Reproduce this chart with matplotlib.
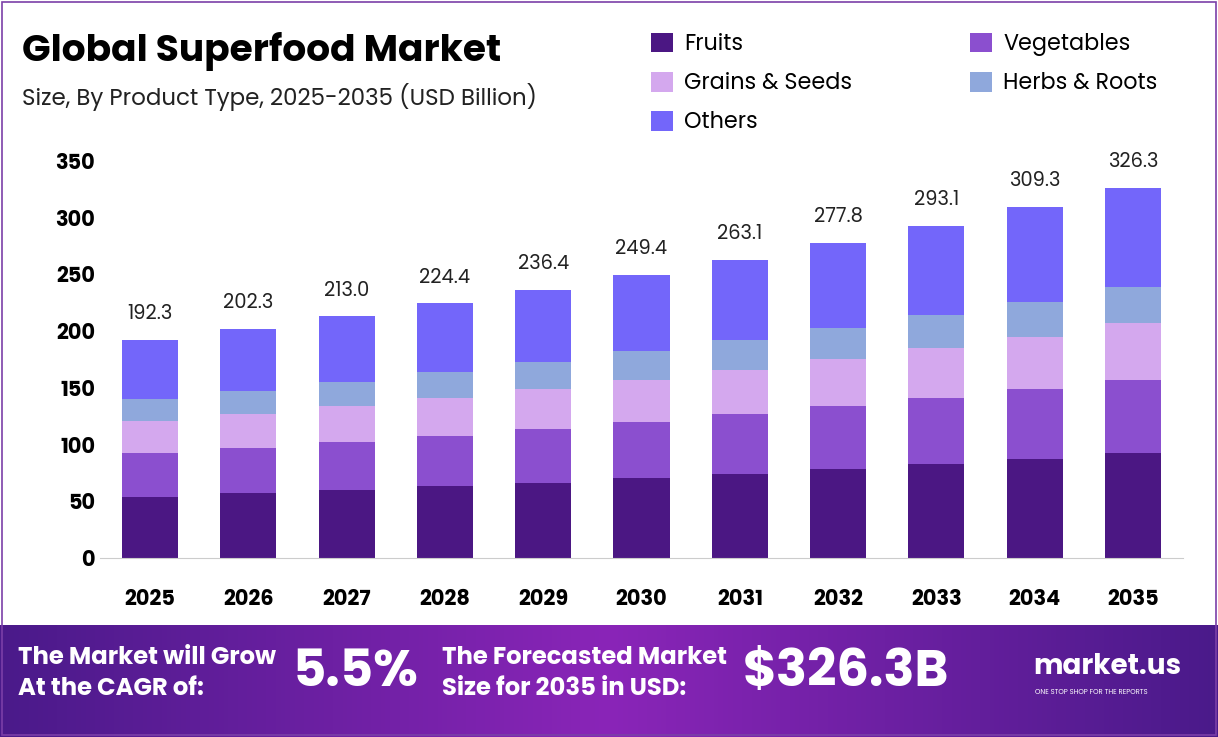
import numpy as np
import matplotlib.pyplot as plt
from matplotlib.patches import Rectangle
from matplotlib.colors import LinearSegmentedColormap

plt.rcParams['font.family'] = ['Poppins', 'Lato', 'DejaVu Sans']

years = ['2025', '2026', '2027', '2028', '2029', '2030', '2031', '2032', '2033', '2034', '2035']
fruits = [53.8, 57.3, 60.0, 63.5, 66.1, 70.5, 74.1, 78.5, 82.9, 87.3, 92.6]
vegetables = [38.8, 39.7, 42.3, 44.1, 47.7, 49.4, 52.9, 55.5, 58.2, 61.7, 64.4]
grains = [28.2, 30.0, 31.7, 33.5, 35.2, 37.1, 38.8, 41.5, 44.1, 45.9, 50.2]
herbs = [19.4, 20.3, 21.2, 22.9, 23.8, 25.5, 26.4, 27.3, 29.1, 30.8, 31.8]
others = [52.1, 55.0, 57.8, 60.4, 63.6, 66.9, 70.9, 75.0, 78.8, 83.6, 87.3]
totals = [192.3, 202.3, 213.0, 224.4, 236.4, 249.4, 263.1, 277.8, 293.1, 309.3, 326.3]

names = ['Fruits', 'Vegetables', 'Grains & Seeds', 'Herbs & Roots', 'Others']
colors = ['#4B1783', '#8B4FCF', '#D4A8EE', '#8FA8DC', '#7366FA']

fig = plt.figure(figsize=(12.18, 7.37), dpi=100)
fig.patches.append(Rectangle((0.002, 0.003), 0.996, 0.994, transform=fig.transFigure,
                             fill=False, ec='#7B3FA8', lw=1.2))

# footer gradient
grad = LinearSegmentedColormap.from_list('g', ['#4A1A8A', '#8A25B8', '#4A1A8A'])
fax = fig.add_axes([0, 0, 1, 112 / 737])
fax.imshow(np.linspace(0, 1, 256).reshape(1, -1), aspect='auto', cmap=grad, extent=[0, 1, 0, 1])
fax.set_axis_off()
fax.set_xlim(0, 1)
fax.set_ylim(0, 1)
fax.text(0.015, 0.7, 'The Market will Grow', color='white', fontsize=17.5, fontweight='bold', va='center')
fax.text(0.015, 0.42, 'At the CAGR of:', color='white', fontsize=17.5, fontweight='bold', va='center')
fax.text(0.24, 0.56, '5.5%', color='white', fontsize=37, fontweight='bold', va='center')
fax.text(0.363, 0.7, 'The Forecasted Market', color='white', fontsize=17.5, fontweight='bold', va='center')
fax.text(0.363, 0.42, 'Size for 2035 in USD:', color='white', fontsize=17.5, fontweight='bold', va='center')
fax.text(0.61, 0.56, '$326.3B', color='white', fontsize=37, fontweight='bold', va='center')
fax.text(0.848, 0.62, 'market.us', color='white', fontsize=20, fontweight='bold', va='center')
fax.text(0.85, 0.4, 'ONE STOP SHOP FOR THE REPORTS', color='white', fontsize=5, va='center')

ax = fig.add_axes([100 / 1218, 179 / 737, 1083 / 1218, 397 / 737])
x = np.arange(len(years))
bottom = np.zeros(len(years))
for vals, n, c in zip([fruits, vegetables, grains, herbs, others], names, colors):
    ax.bar(x, vals, 0.57, bottom=bottom, color=c, label=n)
    bottom += np.array(vals)
for xi, t in zip(x, totals):
    ax.text(xi, t + 14, f'{t:.1f}', ha='center', va='bottom', fontsize=14, color='#222222')

ax.set_xlim(-0.51, 10.51)
ax.set_ylim(0, 350)
ax.set_yticks(range(0, 351, 50))
ax.set_xticks(x)
ax.set_xticklabels(years)
ax.tick_params(length=0, labelsize=15)
ax.tick_params(axis='x', pad=22)
for lab in ax.get_xticklabels() + ax.get_yticklabels():
    lab.set_fontweight('bold')
for s in ['top', 'right', 'left']:
    ax.spines[s].set_visible(False)
ax.spines['bottom'].set_color('#CCCCCC')

fig.text(0.018, 0.93, 'Global Superfood Market', fontsize=27, fontweight='bold', va='center')
fig.text(0.018, 0.868, 'Size, By Product Type, 2025-2035 (USD Billion)', fontsize=16.5, va='center', color='#222222')

h, l = ax.get_legend_handles_labels()
order = [0, 2, 4, 1, 3]
fig.legend([h[i] for i in order], [l[i] for i in order], loc='upper left',
           bbox_to_anchor=(0.518, 0.983), ncol=2, frameon=False,
           fontsize=16, handlelength=1, handleheight=1, columnspacing=5.3, labelspacing=0.7,
           handletextpad=0.5)

fig.savefig('out.png', dpi=100)
